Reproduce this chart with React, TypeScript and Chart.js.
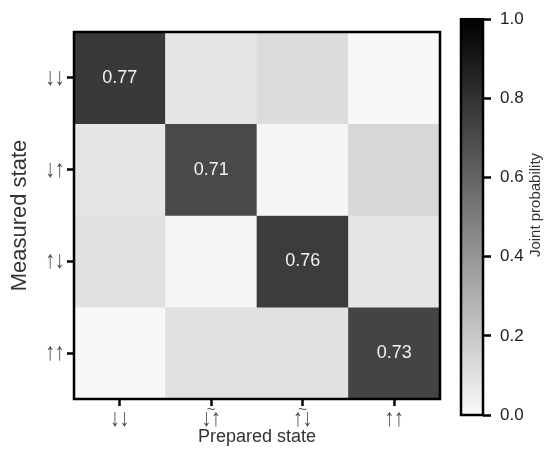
import React, { useEffect, useRef } from 'react';
import { Chart, registerables } from 'chart.js';
Chart.register(...registerables);

// ---- data ----
const preparedStates = ['↓↓', '↓↑', '↑↓', '↑↑'];
const preparedTilde = ['', '~', '~', ''];
const measuredStates = ['↓↓', '↓↑', '↑↓', '↑↑'];
const row_dd = [0.77, 0.08, 0.12, 0.01];
const row_du = [0.08, 0.71, 0.02, 0.14];
const row_ud = [0.10, 0.02, 0.76, 0.08];
const row_uu = [0.01, 0.10, 0.10, 0.73];
const colorbarTicks = [0, 0.2, 0.4, 0.6, 0.8, 1.0];
const xTitle = 'Prepared state';
const yTitle = 'Measured state';
const cbTitle = 'Joint probability';

const rows = [row_dd, row_du, row_ud, row_uu];
const FONT = "'Liberation Sans', Arial, sans-serif";
const LABEL_COLOR = '#4a4a4a';

const grayOf = (v: number) => {
  const g = Math.round(250 * (1 - v));
  return `rgb(${g},${g},${g})`;
};

// draw text so its ink box is centred on (cx, cy) with given ink height / width
function drawFitted(ctx: CanvasRenderingContext2D, text: string, cx: number, cy: number, targetH: number, targetW: number) {
  ctx.save();
  ctx.textAlign = 'left';
  ctx.textBaseline = 'alphabetic';
  ctx.font = `100px ${FONT}`;
  const m = ctx.measureText(text);
  const h = m.actualBoundingBoxAscent + m.actualBoundingBoxDescent;
  const size = (100 * targetH) / h;
  ctx.font = `${size}px ${FONT}`;
  const m2 = ctx.measureText(text);
  const w = m2.actualBoundingBoxLeft + m2.actualBoundingBoxRight;
  const sx = targetW / w;
  const baseY = cy + (m2.actualBoundingBoxAscent - m2.actualBoundingBoxDescent) / 2;
  ctx.translate(cx, baseY);
  ctx.scale(sx, 1);
  ctx.fillText(text, (m2.actualBoundingBoxLeft - m2.actualBoundingBoxRight) / 2, 0);
  ctx.restore();
}

export default function App() {
  const mainRef = useRef<HTMLCanvasElement>(null);
  const cbRef = useRef<HTMLCanvasElement>(null);

  useEffect(() => {
    Chart.defaults.font.family = FONT;

    const framePlugin = {
      id: 'frame',
      afterDatasetsDraw(chart: any) {
        const { ctx, chartArea: a } = chart;
        ctx.save();
        ctx.strokeStyle = '#000';
        ctx.lineWidth = 2.5;
        ctx.strokeRect(a.left, a.top, a.right - a.left, a.bottom - a.top);
        ctx.restore();
      },
    };

    const mainLabels = {
      id: 'mainLabels',
      afterDraw(chart: any) {
        const { ctx } = chart;
        const xs = chart.scales.x;
        const ys = chart.scales.y;
        ctx.save();
        // cell value labels
        ctx.fillStyle = '#f2f2f2';
        ctx.font = `18px ${FONT}`;
        ctx.textAlign = 'center';
        ctx.textBaseline = 'middle';
        rows.forEach((r, i) => {
          const meta = chart.getDatasetMeta(i);
          r.forEach((v, j) => {
            if (v >= 0.5) {
              const p = meta.data[j].getCenterPoint();
              ctx.fillText(v.toFixed(2), p.x, p.y);
            }
          });
        });
        // tick labels
        ctx.fillStyle = LABEL_COLOR;
        measuredStates.forEach((s, i) => {
          const y = ys.getPixelForValue(i + 0.5);
          drawFitted(ctx, s, ys.right - 19, y, 15, 15);
        });
        preparedStates.forEach((s, i) => {
          const x = xs.getPixelForTick(i);
          drawFitted(ctx, s, x, xs.top + 20, 15, 15);
          if (preparedTilde[i]) {
            ctx.font = `15px ${FONT}`;
            ctx.textAlign = 'center';
            ctx.textBaseline = 'alphabetic';
            const m = ctx.measureText(preparedTilde[i]);
            const by = xs.top + 10 + (m.actualBoundingBoxAscent - m.actualBoundingBoxDescent) / 2;
            ctx.fillText(preparedTilde[i], x, by);
          }
        });
        ctx.restore();
      },
    };

    const main = new Chart(mainRef.current!, {
      type: 'bar',
      data: {
        labels: preparedStates,
        datasets: rows.map((r, i) => ({
          label: measuredStates[i],
          data: r.map(() => [i, i + 1]) as any,
          backgroundColor: r.map(grayOf),
          borderWidth: 0,
          grouped: false,
          categoryPercentage: 1,
          barPercentage: 1,
        })),
      },
      options: {
        responsive: false,
        animation: false,
        events: [],
        layout: { padding: { top: 32, right: 10, left: 0, bottom: 0 } },
        plugins: { legend: { display: false }, tooltip: { enabled: false } },
        scales: {
          x: {
            grid: { offset: false, drawOnChartArea: false, tickLength: 7, tickWidth: 2.5, tickColor: '#000' },
            border: { display: false },
            ticks: { display: false },
            title: { display: true, text: xTitle, color: '#333', font: { size: 18 }, padding: { top: 0, bottom: 13 } },
            afterFit: (s: any) => { s.height = 62; },
          },
          y: {
            type: 'linear',
            min: 0,
            max: 4,
            reverse: true,
            afterBuildTicks: (s: any) => { s.ticks = [0.5, 1.5, 2.5, 3.5].map((v) => ({ value: v })); },
            grid: { drawOnChartArea: false, tickLength: 7, tickWidth: 2.5, tickColor: '#000' },
            border: { display: false },
            ticks: { display: false },
            title: { display: true, text: yTitle, color: '#333', font: { size: 22 }, padding: { top: 7, bottom: 0 } },
            afterFit: (s: any) => { s.width = 74; },
          },
        },
      } as any,
      plugins: [framePlugin, mainLabels],
    });

    const cbTitlePlugin = {
      id: 'cbTitle',
      afterDraw(chart: any) {
        const { ctx } = chart;
        ctx.save();
        ctx.translate(86, 205);
        ctx.rotate(-Math.PI / 2);
        ctx.fillStyle = '#333';
        ctx.font = `15px ${FONT}`;
        ctx.textAlign = 'center';
        ctx.textBaseline = 'middle';
        ctx.fillText(cbTitle, 0, 0);
        ctx.restore();
      },
    };

    const cb = new Chart(cbRef.current!, {
      type: 'bar',
      data: {
        labels: ['cb'],
        datasets: [{
          data: [[colorbarTicks[0], colorbarTicks[colorbarTicks.length - 1]]] as any,
          backgroundColor: (c: any) => {
            const { ctx, chartArea } = c.chart;
            if (!chartArea) return '#888';
            const g = ctx.createLinearGradient(0, chartArea.bottom, 0, chartArea.top);
            g.addColorStop(0, grayOf(0));
            g.addColorStop(1, grayOf(1));
            return g;
          },
          borderWidth: 0,
          categoryPercentage: 1,
          barPercentage: 1,
        }],
      },
      options: {
        responsive: false,
        animation: false,
        events: [],
        layout: { padding: { top: 15, left: 11, right: 0, bottom: 46 } },
        plugins: { legend: { display: false }, tooltip: { enabled: false } },
        scales: {
          x: { display: false },
          y: {
            position: 'right',
            min: 0,
            max: 1,
            afterBuildTicks: (s: any) => { s.ticks = colorbarTicks.map((v) => ({ value: v })); },
            grid: { drawOnChartArea: false, tickLength: 8, tickWidth: 2.5, tickColor: '#000' },
            border: { display: false },
            ticks: { color: '#222', font: { size: 17 }, padding: 9, callback: (v: any) => Number(v).toFixed(1) },
            afterFit: (s: any) => { s.width = 69; },
          },
        },
      } as any,
      plugins: [framePlugin, cbTitlePlugin],
    });

    return () => { main.destroy(); cb.destroy(); };
  }, []);

  return (
    <div style={{ position: 'fixed', left: 0, top: 0, width: 552, height: 461, background: '#fff' }}>
      <canvas ref={mainRef} width={450} height={461} style={{ position: 'absolute', left: 0, top: 0, width: 450, height: 461 }} />
      <canvas ref={cbRef} width={102} height={461} style={{ position: 'absolute', left: 450, top: 0, width: 102, height: 461 }} />
    </div>
  );
}
